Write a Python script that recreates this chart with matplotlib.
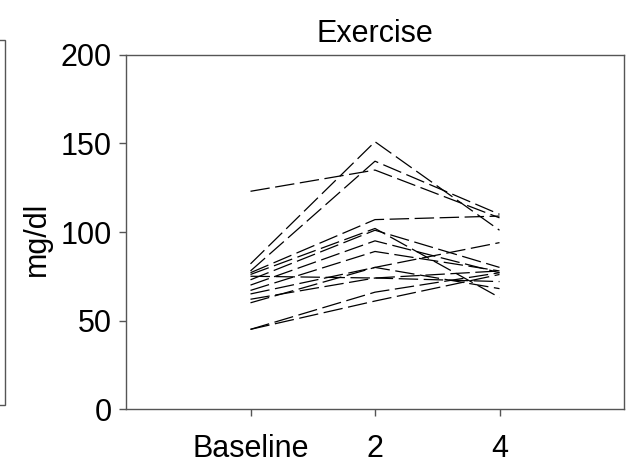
import matplotlib
matplotlib.use("Agg")
import matplotlib.pyplot as plt
from matplotlib.patches import Rectangle

plt.rcParams['font.family'] = ['Liberation Sans', 'DejaVu Sans']
plt.rcParams['lines.scale_dashes'] = False

# Data
timepoints = ["Baseline", "2", "4"]
x_pos = [1, 2, 3]
subjects = [
    [123, 135, 108],
    [82, 151, 101],
    [78, 140, 110],
    [77, 107, 109],
    [76, 102, 63],
    [73, 101, 80],
    [70, 95, 77],
    [67, 89, 78],
    [65, 80, 94],
    [75, 74, 78],
    [62, 74, 72],
    [60, 80, 68],
    [45, 66, 77],
    [45, 61, 76],
]
y_ticks = [0, 50, 100, 150, 200]

W, H = 626, 465
fig = plt.figure(figsize=(W / 100, H / 100), dpi=100)
ax = fig.add_axes([126 / W, (H - 409) / H, (624 - 126) / W, (409 - 55) / H])

for i, s in enumerate(subjects):
    ax.plot(x_pos, s, color='black', linewidth=0.9,
            dashes=(14, 4), dash_capstyle='butt')

ax.set_xlim(0, 4)
ax.set_ylim(0, 200)
ax.set_xticks(x_pos)
ax.set_xticklabels(timepoints)
ax.set_yticks(y_ticks)
for sp in ax.spines.values():
    sp.set_color('#555555')
    sp.set_linewidth(1.0)
ax.tick_params(axis='both', direction='out', length=5, width=1, color='#555555',
               labelsize=22, pad=5)
ax.tick_params(axis='x', pad=13)
ax.set_title("Exercise", fontsize=22, pad=9)
ax.set_ylabel("mg/dl", fontsize=22)
ax.yaxis.set_label_coords(-0.149, 0.48)

# partial neighbouring panel at left edge
fig.patches.append(Rectangle((-100 / W, (H - 405) / H), 105 / W, (405 - 40) / H,
                             transform=fig.transFigure, fill=False,
                             edgecolor='#555555', linewidth=1.0))

fig.savefig("out.png", dpi=100)
